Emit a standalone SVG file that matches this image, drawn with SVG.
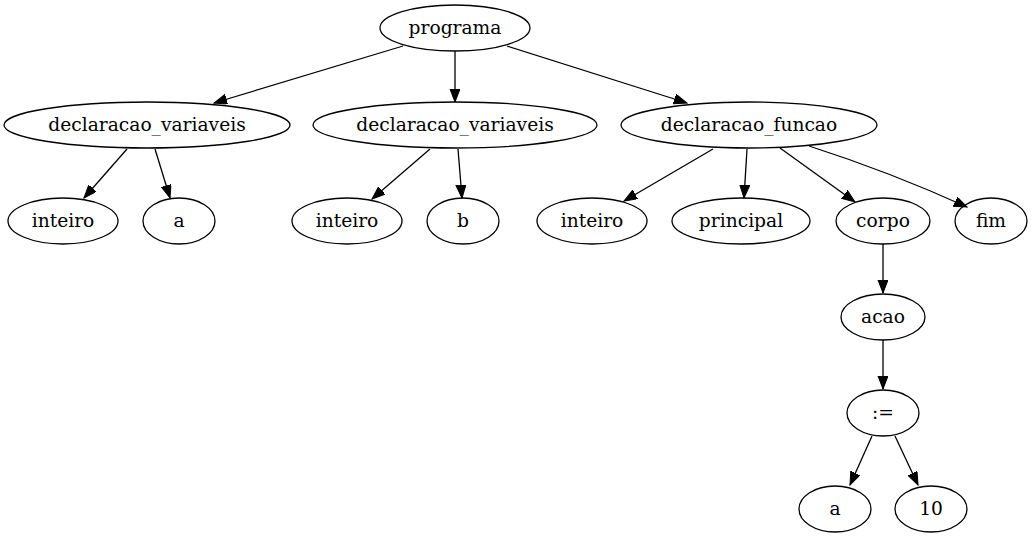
<svg xmlns="http://www.w3.org/2000/svg" width="1033" height="539" viewBox="0 0 1033 539">
<style>
.n ellipse{fill:none;stroke:#000;stroke-width:1.3}
.n text{font-family:"DejaVu Serif","Liberation Serif",serif;font-size:18.67px;text-anchor:middle;fill:#000}
.e path{fill:none;stroke:#000;stroke-width:1.3}
</style>
<defs>
<marker id="ar" markerUnits="userSpaceOnUse" markerWidth="14" markerHeight="12" refX="13" refY="5" orient="auto">
<path d="M0,0 L13,5 L0,10 z" fill="#000" stroke="#000" stroke-width="1"/>
</marker>
</defs>
<rect width="1033" height="539" fill="#fff"/>
<g class="e" id="edges">
<path d="M403,46 L214,103" marker-end="url(#ar)"/>
<path d="M455,51 L455,102" marker-end="url(#ar)"/>
<path d="M507,46 L687,103" marker-end="url(#ar)"/>
<path d="M127,149 L84,198" marker-end="url(#ar)"/>
<path d="M155,149 L170,198" marker-end="url(#ar)"/>
<path d="M430,149 L372,199" marker-end="url(#ar)"/>
<path d="M458,149 L462,198" marker-end="url(#ar)"/>
<path d="M713,149 L624,201" marker-end="url(#ar)"/>
<path d="M747,149 L744,198" marker-end="url(#ar)"/>
<path d="M780,148 L855,202" marker-end="url(#ar)"/>
<path d="M809,146 Q890,172 967,207" marker-end="url(#ar)"/>
<path d="M883,244 L883,293" marker-end="url(#ar)"/>
<path d="M883,340 L883,389" marker-end="url(#ar)"/>
<path d="M872,436 L850,485" marker-end="url(#ar)"/>
<path d="M895,436 L918,485" marker-end="url(#ar)"/>
</g>
<g class="n" id="programa"><ellipse cx="455" cy="28" rx="75" ry="23"/><text x="455" y="34">programa</text></g>
<g class="n" id="dv1"><ellipse cx="147" cy="125" rx="143" ry="23"/><text x="147" y="131">declaracao_variaveis</text></g>
<g class="n" id="dv2"><ellipse cx="455" cy="125" rx="142" ry="23"/><text x="455" y="131">declaracao_variaveis</text></g>
<g class="n" id="df"><ellipse cx="749" cy="125" rx="128" ry="23"/><text x="749" y="131">declaracao_funcao</text></g>
<g class="n" id="inteiro1"><ellipse cx="63" cy="221" rx="55" ry="23"/><text x="63" y="227">inteiro</text></g>
<g class="n" id="a1"><ellipse cx="179" cy="221" rx="36" ry="23"/><text x="179" y="227">a</text></g>
<g class="n" id="inteiro2"><ellipse cx="347" cy="221" rx="55" ry="23"/><text x="347" y="227">inteiro</text></g>
<g class="n" id="b"><ellipse cx="463" cy="221" rx="36" ry="23"/><text x="463" y="227">b</text></g>
<g class="n" id="inteiro3"><ellipse cx="592" cy="221" rx="55" ry="23"/><text x="592" y="227">inteiro</text></g>
<g class="n" id="principal"><ellipse cx="741" cy="221" rx="69" ry="23"/><text x="741" y="227">principal</text></g>
<g class="n" id="corpo"><ellipse cx="883" cy="221" rx="47" ry="23"/><text x="883" y="227">corpo</text></g>
<g class="n" id="fim"><ellipse cx="991" cy="221" rx="36" ry="23"/><text x="991" y="227">fim</text></g>
<g class="n" id="acao"><ellipse cx="883" cy="317" rx="42" ry="23"/><text x="883" y="323">acao</text></g>
<g class="n" id="assign"><ellipse cx="883" cy="413" rx="36" ry="23"/><text x="883" y="419">:=</text></g>
<g class="n" id="a2"><ellipse cx="835" cy="509" rx="36" ry="23"/><text x="835" y="515">a</text></g>
<g class="n" id="ten"><ellipse cx="931" cy="509" rx="36" ry="23"/><text x="931" y="515">10</text></g>
</svg>
